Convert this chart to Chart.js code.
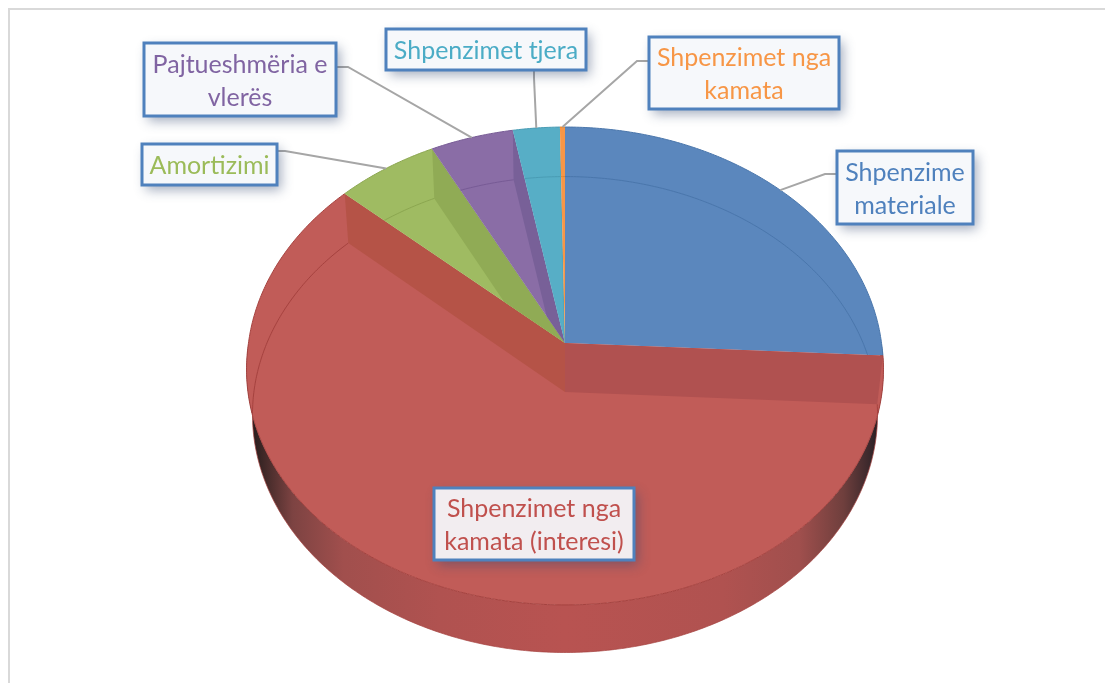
<!DOCTYPE html>
<html>
<head>
<meta charset="utf-8">
<style>
    html, body { margin: 0; padding: 0; background: #fff; overflow: hidden; }
    #frame { position: absolute; left: 8px; top: 8px; width: 1097px; height: 675px; border-top: 2px solid #d9d9d9; border-left: 2px solid #d9d9d9; box-sizing: border-box; }
    #pie { position: absolute; left: 0; top: 0; }
</style>
<script src="https://cdn.jsdelivr.net/npm/chart.js@4"></script>
</head>
<body>
<div id="frame"></div>
<canvas id="pie" width="1105" height="683"></canvas>
<script>
const categories = ['Shpenzime materiale', 'Shpenzimet nga kamata (interesi)', 'Amortizimi', 'Pajtueshmëria e vlerës', 'Shpenzimet tjera', 'Shpenzimet nga kamata'];
const values = [25.83, 60.89, 5.75, 4.64, 2.61, 0.28];
const sliceColors = ['#5b87bd', '#c15c58', '#9fbb62', '#8a6da6', '#57aec6', '#f79646'];
const wallColors = ['#5b87bd', '#b05150', '#90ab55', '#786098', '#52a6bd', '#f79646'];
const rimColors = ['#4a76ab', '#a5423f', '#8ba650', '#775b95', '#4a9cb4', '#e08530'];
const textColors = ['#4f81bd', '#c0504d', '#9bbb59', '#8064a2', '#4bacc6', '#f79646'];
const labelLines = [['Shpenzime', 'materiale'], ['Shpenzimet nga', 'kamata (interesi)'], ['Amortizimi'], ['Pajtueshmëria e', 'vlerës'], ['Shpenzimet tjera'], ['Shpenzimet nga', 'kamata']];

// label boxes: left, top, right, bottom, and the elbow of the leader line
const boxes = [
    { l: 837, t: 151, r: 973, b: 224, elbow: [825, 174], end: [837, 174] },
    { l: 434, t: 488, r: 634, b: 560 },
    { l: 142, t: 144, r: 277, b: 185, elbow: [285, 151], end: [277, 151] },
    { l: 144, t: 43, r: 336, b: 116, elbow: [348, 67], end: [336, 67] },
    { l: 386, t: 29, r: 586, b: 70, elbow: [534, 78], end: [534, 70] },
    { l: 649, t: 37, r: 839, b: 109, elbow: [637, 61], end: [649, 61] }
];

// projection of the flat pie: top face, and base face seen through it
const topFace = { squash: 0.748, k: 0.0962, dy: 0, scale: 1, bulge: 0.015 };
const baseFace = { squash: 0.758, k: 0.0947, dy: 49, scale: 0.983, bulge: 0 };

function project(arc, angle, face) {
    const r = arc.outerRadius * face.scale;
    const u = Math.cos(angle), v = Math.sin(angle);
    const w = 1 - face.k * v;
    const wide = 1 + face.bulge * Math.max(v, 0);
    return [arc.x + r * u * wide / w, arc.y + face.dy + r * face.squash * v / w];
}

function traceRim(ctx, arc, from, to, face, move) {
    const steps = Math.max(2, Math.ceil(Math.abs(to - from) / 0.01));
    for (let s = 0; s <= steps; s++) {
        const p = project(arc, from + (to - from) * s / steps, face);
        if (s === 0 && move) ctx.moveTo(p[0], p[1]); else ctx.lineTo(p[0], p[1]);
    }
}

function drawWall(ctx, arc, angle, color) {
    const a = project(arc, angle, topFace), b = project(arc, angle, baseFace);
    ctx.beginPath();
    ctx.moveTo(arc.x, arc.y);
    ctx.lineTo(a[0], a[1]);
    ctx.lineTo(b[0], b[1]);
    ctx.lineTo(arc.x, arc.y + baseFace.dy);
    ctx.closePath();
    ctx.fillStyle = color;
    ctx.fill();
}

function drawSide(ctx, arc) {
    const left = arc.x - arc.outerRadius;
    const width = arc.outerRadius * 2;
    const grad = ctx.createLinearGradient(left, 0, left + width, 0);
    grad.addColorStop(0.00, '#20181a');
    grad.addColorStop(0.02, '#3a2625');
    grad.addColorStop(0.07, '#7d4342');
    grad.addColorStop(0.15, '#a14f4d');
    grad.addColorStop(0.30, '#b05250');
    grad.addColorStop(0.50, '#b85351');
    grad.addColorStop(0.75, '#b05250');
    grad.addColorStop(0.87, '#a04f4d');
    grad.addColorStop(0.94, '#6f3f3d');
    grad.addColorStop(0.985, '#36262a');
    grad.addColorStop(1.00, '#20181a');
    ctx.beginPath();
    traceRim(ctx, arc, 0, Math.PI, topFace, true);
    traceRim(ctx, arc, Math.PI, 0, baseFace, false);
    ctx.closePath();
    ctx.fillStyle = grad;
    ctx.fill();
    ctx.beginPath();
    traceRim(ctx, arc, 0, Math.PI, baseFace, true);
    ctx.strokeStyle = 'rgba(165,66,63,0.7)';
    ctx.lineWidth = 1;
    ctx.stroke();
}

const pie3d = {
    id: 'pie3d',
    beforeDatasetDraw(chart, args) {
        const ctx = chart.ctx;
        const arcs = args.meta.data;
        ctx.save();
        drawSide(ctx, arcs[0]);
        arcs.forEach((arc, i) => {
            ctx.save();
            ctx.beginPath();
            ctx.moveTo(arc.x, arc.y);
            traceRim(ctx, arc, arc.startAngle, arc.endAngle, topFace, false);
            ctx.closePath();
            ctx.fillStyle = sliceColors[i];
            ctx.fill();
            ctx.clip();
            drawWall(ctx, arc, arc.startAngle, wallColors[i]);
            drawWall(ctx, arc, arc.endAngle, i === 1 ? '#b55347' : wallColors[i]);
            // base rim showing through the slice
            ctx.beginPath();
            traceRim(ctx, arc, arc.startAngle, arc.endAngle, baseFace, true);
            ctx.strokeStyle = rimColors[i];
            ctx.lineWidth = 1;
            ctx.stroke();
            ctx.restore();
            // top rim
            ctx.beginPath();
            traceRim(ctx, arc, arc.startAngle, arc.endAngle, topFace, true);
            ctx.strokeStyle = rimColors[i];
            ctx.lineWidth = 1;
            ctx.stroke();
        });
        ctx.restore();
        return false;
    },
    afterDraw(chart) {
        const ctx = chart.ctx;
        const arcs = chart.getDatasetMeta(0).data;
        boxes.forEach((box, i) => {
            ctx.save();
            if (box.elbow) {
                const mid = (arcs[i].startAngle + arcs[i].endAngle) / 2;
                const p = project(arcs[i], mid, topFace);
                ctx.beginPath();
                ctx.moveTo(p[0], p[1]);
                ctx.lineTo(box.elbow[0], box.elbow[1]);
                ctx.lineTo(box.end[0], box.end[1]);
                ctx.strokeStyle = '#a6a6a6';
                ctx.lineWidth = 2;
                ctx.stroke();
            }
            ctx.shadowColor = 'rgba(50,70,110,0.45)';
            ctx.shadowBlur = 11;
            ctx.shadowOffsetX = 4;
            ctx.shadowOffsetY = 5;
            ctx.fillStyle = '#f6f8fb';
            ctx.fillRect(box.l, box.t, box.r - box.l, box.b - box.t);
            ctx.shadowColor = 'transparent';
            if (i === 1) {
                ctx.fillStyle = '#f2edf0';
                ctx.fillRect(box.l, box.t, box.r - box.l, box.b - box.t);
            }
            ctx.strokeStyle = '#4f81bd';
            ctx.lineWidth = 3;
            ctx.strokeRect(box.l, box.t, box.r - box.l, box.b - box.t);
            ctx.font = '25px Lato';
            ctx.fillStyle = textColors[i];
            ctx.textAlign = 'center';
            ctx.textBaseline = 'middle';
            const lines = labelLines[i];
            const cx = (box.l + box.r) / 2, cy = (box.t + box.b) / 2 + 1.5;
            lines.forEach((line, n) => {
                ctx.fillText(line, cx, cy + (n - (lines.length - 1) / 2) * 33);
            });
            ctx.restore();
        });
    }
};

new Chart(document.getElementById('pie'), {
    type: 'pie',
    data: {
        labels: categories,
        datasets: [{ data: values, backgroundColor: sliceColors, borderWidth: 0 }]
    },
    options: {
        responsive: false,
        animation: false,
        layout: { padding: { left: 248.5, right: 223.5, top: 26.5, bottom: 23.5 } },
        plugins: { legend: { display: false }, tooltip: { enabled: false } }
    },
    plugins: [pie3d]
});
</script>
</body>
</html>
